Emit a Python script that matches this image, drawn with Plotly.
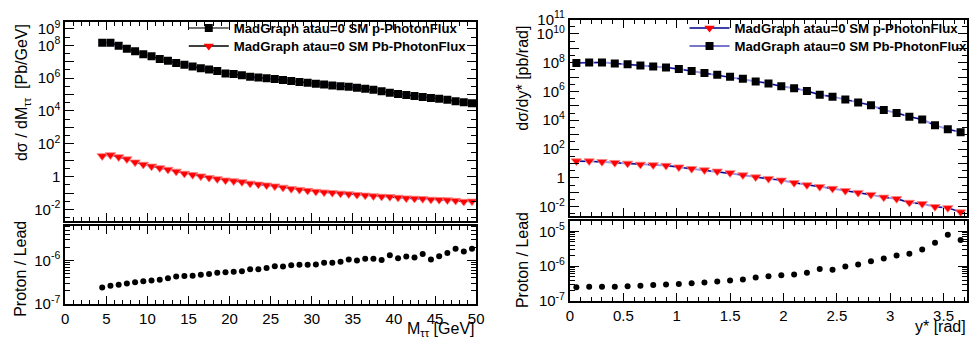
import plotly.graph_objects as go

# ---------------- data ----------------
mtt = [4.5, 5.5, 6.5, 7.5, 8.5, 9.5, 10.5, 11.5, 12.5, 13.5, 14.5, 15.5, 16.5, 17.5, 18.5,
       19.5, 20.5, 21.5, 22.5, 23.5, 24.5, 25.5, 26.5, 27.5, 28.5, 29.5, 30.5, 31.5, 32.5,
       33.5, 34.5, 35.5, 36.5, 37.5, 38.5, 39.5, 40.5, 41.5, 42.5, 43.5, 44.5, 45.5, 46.5,
       47.5, 48.5, 49.5]
mtt_p = [1.41e8, 1.41e8, 9.55e7, 6.17e7, 4.37e7, 2.88e7, 2.14e7, 1.48e7, 1.15e7, 8.51e6,
         6.46e6, 5.13e6, 3.98e6, 3.31e6, 2.69e6, 1.95e6, 1.78e6, 1.51e6, 1.20e6, 1.10e6,
         1.00e6, 8.91e5, 7.76e5, 6.76e5, 5.89e5, 5.25e5, 4.57e5, 4.17e5, 3.63e5, 3.24e5,
         2.95e5, 2.57e5, 2.24e5, 1.95e5, 1.62e5, 1.29e5, 1.10e5, 9.33e4, 8.13e4, 7.08e4,
         6.17e4, 5.50e4, 4.79e4, 3.98e4, 3.39e4, 2.95e4]
mtt_pb = [18.2, 20.9, 15.8, 11.7, 7.59, 5.50, 4.27, 3.39, 2.69, 2.09, 1.55, 1.29, 1.07, 0.871,
          0.724, 0.603, 0.537, 0.479, 0.389, 0.339, 0.302, 0.263, 0.219, 0.182, 0.162, 0.141,
          0.123, 0.112, 0.105, 0.0955, 0.0871, 0.0794, 0.0724, 0.0661, 0.0617, 0.0589, 0.0537,
          0.0490, 0.0468, 0.0447, 0.0407, 0.0389, 0.0372, 0.0347, 0.0302, 0.0316]
mtt_ratio = [2.40e-7, 2.63e-7, 2.75e-7, 2.95e-7, 3.16e-7, 3.31e-7, 3.47e-7, 3.63e-7, 3.89e-7, 4.27e-7,
             4.37e-7, 4.47e-7, 4.68e-7, 4.90e-7, 5.25e-7, 5.37e-7, 5.50e-7, 5.62e-7, 6.31e-7, 6.31e-7,
             6.76e-7, 7.41e-7, 7.24e-7, 7.76e-7, 7.94e-7, 7.94e-7, 8.13e-7, 8.91e-7, 8.91e-7, 9.33e-7,
             1.05e-6, 1.00e-6, 1.10e-6, 1.10e-6, 1.02e-6, 1.32e-6, 1.12e-6, 1.23e-6, 1.17e-6, 1.41e-6,
             1.05e-6, 1.26e-6, 1.48e-6, 1.86e-6, 1.62e-6, 1.86e-6]

ystar = [0.06, 0.18, 0.30, 0.42, 0.54, 0.66, 0.78, 0.90, 1.02, 1.14, 1.26, 1.38, 1.50, 1.62,
         1.74, 1.86, 1.98, 2.10, 2.22, 2.34, 2.46, 2.58, 2.70, 2.82, 2.94, 3.06, 3.18, 3.30,
         3.42, 3.54, 3.66]
ys_square = [9.55e7, 1.05e8, 1.05e8, 8.91e7, 7.76e7, 6.31e7, 5.50e7, 4.68e7, 3.63e7, 2.63e7,
             1.95e7, 1.45e7, 1.07e7, 7.76e6, 5.01e6, 3.63e6, 2.29e6, 1.70e6, 1.07e6, 5.89e5,
             4.37e5, 2.75e5, 1.74e5, 1.10e5, 5.13e4, 3.24e4, 1.78e4, 1.12e4, 4.47e3, 2.40e3, 1.48e3]
ys_triangle = [14.5, 14.5, 12.9, 11.2, 10.0, 8.51, 7.76, 7.08, 5.50, 4.27, 3.47, 2.82, 2.19,
               1.55, 1.12, 0.871, 0.676, 0.447, 0.316, 0.240, 0.178, 0.126, 0.0933, 0.0676,
               0.0437, 0.0347, 0.0191, 0.0155, 0.00977, 0.00813, 0.00417]
ys_ratio = [2.51e-7, 2.57e-7, 2.57e-7, 2.57e-7, 2.69e-7, 2.75e-7, 2.88e-7, 3.02e-7, 3.09e-7, 3.24e-7,
            3.39e-7, 3.63e-7, 3.89e-7, 4.17e-7, 4.79e-7, 5.13e-7, 5.50e-7, 5.75e-7, 6.46e-7, 8.32e-7,
            7.94e-7, 9.77e-7, 1.12e-6, 1.38e-6, 1.66e-6, 2.04e-6, 2.29e-6, 3.02e-6, 4.68e-6, 7.94e-6,
            5.62e-6]

left_legend = ["MadGraph atau=0 SM p-PhotonFlux", "MadGraph atau=0 SM Pb-PhotonFlux"]
right_legend = ["MadGraph atau=0 SM p-PhotonFlux", "MadGraph atau=0 SM Pb-PhotonFlux"]

# ---------------- layout helpers ----------------
W, H = 977, 346
FONT = "Liberation Sans, Arial, Helvetica, sans-serif"


def fx(p):
    return p / W


def fy(p):
    return 1 - p / H


def exp_label(k):
    if k == 0:
        return "1"
    return "10<sup>%d</sup>" % k


def log_axis(lo, hi, labeled, rng, minor_vals, domain, anchor, ticklen=9):
    vals = [10.0 ** k for k in range(lo, hi + 1)]
    text = [exp_label(k) if k in labeled else "" for k in range(lo, hi + 1)]
    return dict(type="log", range=rng, domain=domain, anchor=anchor,
                tickmode="array", tickvals=vals, ticktext=text,
                ticks="inside", ticklen=ticklen, tickwidth=1, tickcolor="black",
                minor=dict(tickmode="array", tickvals=minor_vals, ticks="inside",
                           ticklen=5, tickwidth=1, tickcolor="black"),
                showline=True, linecolor="black", linewidth=2, mirror="allticks",
                showgrid=False, zeroline=False,
                tickfont=dict(family=FONT, size=15, color="black"))


def lin_axis(rng, dtick, minor_dtick, domain, anchor, labels, ticklen=8):
    return dict(range=rng, domain=domain, anchor=anchor, dtick=dtick, tick0=0,
                ticks="inside", ticklen=ticklen, tickwidth=1, tickcolor="black",
                minor=dict(dtick=minor_dtick, ticks="inside", ticklen=4,
                           tickwidth=1, tickcolor="black"),
                showline=True, linecolor="black", linewidth=2, mirror="allticks",
                showgrid=False, zeroline=False, showticklabels=labels,
                tickfont=dict(family=FONT, size=15, color="black"))


half_dec = [3.16 * 10.0 ** k for k in range(-3, 12)]
ratio_minor = [m * 10.0 ** k for k in (-7, -6, -5) for m in (2, 3, 4, 5, 6, 7, 8, 9)]

LX = [fx(62), fx(478)]
RX = [fx(573), fx(975)]
LTOP = [fy(222), fy(12)]
LRAT = [fy(310), fy(227)]
RTOP = [fy(217), fy(9)]
RRAT = [fy(307), fy(222)]

fig = go.Figure()

LIGHT_BLUE = "rgba(120,120,220,0.75)"
DARK_BLUE = "#00008c"
SQ = 8
TRI = 9
DOT = 6

# ---- left top: curves + markers ----
for ys in (mtt_p, mtt_pb):
    fig.add_trace(go.Scatter(x=mtt, y=ys, mode="lines", xaxis="x", yaxis="y",
                             line=dict(color=LIGHT_BLUE, width=2), showlegend=False,
                             hoverinfo="skip"))
    fig.add_trace(go.Scatter(x=mtt, y=ys, mode="lines", xaxis="x", yaxis="y",
                             line=dict(color=DARK_BLUE, width=1.2, dash="dot"),
                             showlegend=False, hoverinfo="skip"))
fig.add_trace(go.Scatter(x=mtt, y=mtt_p, mode="markers", xaxis="x", yaxis="y",
                         marker=dict(symbol="square", size=SQ, color="black"),
                         showlegend=False))
fig.add_trace(go.Scatter(x=mtt, y=mtt_pb, mode="markers", xaxis="x", yaxis="y",
                         marker=dict(symbol="triangle-down", size=TRI, color="#ff0000",
                                     line=dict(color="rgba(255,130,130,0.8)", width=1)),
                         showlegend=False))
# left ratio
fig.add_trace(go.Scatter(x=mtt, y=mtt_ratio, mode="markers", xaxis="x2", yaxis="y2",
                         marker=dict(symbol="circle", size=DOT, color="black"),
                         showlegend=False))

# ---- right top ----
for ys in (ys_square, ys_triangle):
    fig.add_trace(go.Scatter(x=ystar, y=ys, mode="lines", xaxis="x3", yaxis="y3",
                             line=dict(color=LIGHT_BLUE, width=2), showlegend=False,
                             hoverinfo="skip"))
    fig.add_trace(go.Scatter(x=ystar, y=ys, mode="lines", xaxis="x3", yaxis="y3",
                             line=dict(color=DARK_BLUE, width=1.2, dash="dash"),
                             showlegend=False, hoverinfo="skip"))
fig.add_trace(go.Scatter(x=ystar, y=ys_square, mode="markers", xaxis="x3", yaxis="y3",
                         marker=dict(symbol="square", size=SQ, color="black"),
                         showlegend=False))
fig.add_trace(go.Scatter(x=ystar, y=ys_triangle, mode="markers", xaxis="x3", yaxis="y3",
                         marker=dict(symbol="triangle-down", size=TRI, color="#ff0000",
                                     line=dict(color="rgba(255,130,130,0.8)", width=1)),
                         showlegend=False))
fig.add_trace(go.Scatter(x=ystar, y=ys_ratio, mode="markers", xaxis="x4", yaxis="y4",
                         marker=dict(symbol="circle", size=DOT, color="black"),
                         showlegend=False))

# ---- legend entries (one legend box per row) ----
fig.add_trace(go.Scatter(x=[None], y=[None], mode="lines+markers", xaxis="x", yaxis="y",
                         name="<b>%s</b>" % left_legend[0], legend="legend",
                         line=dict(color="#444444", width=1.5),
                         marker=dict(symbol="square", size=SQ, color="black")))
fig.add_trace(go.Scatter(x=[None], y=[None], mode="lines+markers", xaxis="x", yaxis="y",
                         name="<b>%s</b>" % left_legend[1], legend="legend2",
                         line=dict(color="black", width=1.5),
                         marker=dict(symbol="triangle-down", size=TRI, color="#ff0000")))
fig.add_trace(go.Scatter(x=[None], y=[None], mode="lines+markers", xaxis="x3", yaxis="y3",
                         name="<b>%s</b>" % right_legend[0], legend="legend3",
                         line=dict(color=DARK_BLUE, width=1.5),
                         marker=dict(symbol="triangle-down", size=TRI, color="#ff0000")))
fig.add_trace(go.Scatter(x=[None], y=[None], mode="lines+markers", xaxis="x3", yaxis="y3",
                         name="<b>%s</b>" % right_legend[1], legend="legend4",
                         line=dict(color="#4848b8", width=1.5),
                         marker=dict(symbol="square", size=SQ, color="black")))

legend_common = dict(bgcolor="rgba(0,0,0,0)", borderwidth=0, itemwidth=40,
                     font=dict(family=FONT, size=13.2, color="black"),
                     xanchor="left", yanchor="top", tracegroupgap=0, itemclick=False)

fig.update_layout(
    width=W, height=H, margin=dict(l=0, r=0, t=0, b=0),
    paper_bgcolor="white", plot_bgcolor="white",
    font=dict(family=FONT, color="black"),
    legend=dict(x=fx(182), y=fy(2), **legend_common),
    legend2=dict(x=fx(182), y=fy(21), **legend_common),
    legend3=dict(x=fx(689), y=fy(2), **legend_common),
    legend4=dict(x=fx(689), y=fy(21), **legend_common),
    xaxis=lin_axis([0, 50], 5, 1, LX, "y", False),
    yaxis=log_axis(-2, 9, [9, 8, 6, 4, 2, 0, -2], [-2.69, 9.40], half_dec, LTOP, "x"),
    xaxis2=lin_axis([0, 50], 5, 1, LX, "y2", True),
    yaxis2=log_axis(-7, -6, [-7, -6], [-7, -5.196], ratio_minor, LRAT, "x2"),
    xaxis3=lin_axis([0, 3.72], 0.5, 0.1, RX, "y3", False),
    yaxis3=log_axis(-2, 11, [11, 10, 8, 6, 4, 2, 0, -2], [-2.66, 11.0], half_dec, RTOP, "x3"),
    xaxis4=lin_axis([0, 3.72], 0.5, 0.1, RX, "y4", True),
    yaxis4=log_axis(-7, -5, [-7, -6, -5], [-7, -4.70], ratio_minor, RRAT, "x4"),
)

ann_font = dict(family=FONT, size=16, color="black")
annotations = [
    dict(text="dσ / dM<sub>ττ</sub>  [Pb/GeV]", x=fx(19), y=fy(86), textangle=-90),
    dict(text="Proton / Lead", x=fx(16), y=fy(273), textangle=-90),
    dict(text="dσ/dy* [pb/rad]", x=fx(525), y=fy(71), textangle=-90),
    dict(text="Proton / Lead", x=fx(525), y=fy(264), textangle=-90),
]
for a in annotations:
    a.update(xref="paper", yref="paper", showarrow=False, font=ann_font,
             xanchor="center", yanchor="middle")
annotations.append(dict(text="M<sub>ττ</sub> [GeV]", x=fx(479), y=fy(337), xref="paper",
                        yref="paper", showarrow=False, font=ann_font,
                        xanchor="right", yanchor="middle"))
annotations.append(dict(text="y* [rad]", x=fx(976), y=fy(334), xref="paper",
                        yref="paper", showarrow=False, font=ann_font,
                        xanchor="right", yanchor="middle"))
fig.update_layout(annotations=annotations)

fig.write_html("out.html")
